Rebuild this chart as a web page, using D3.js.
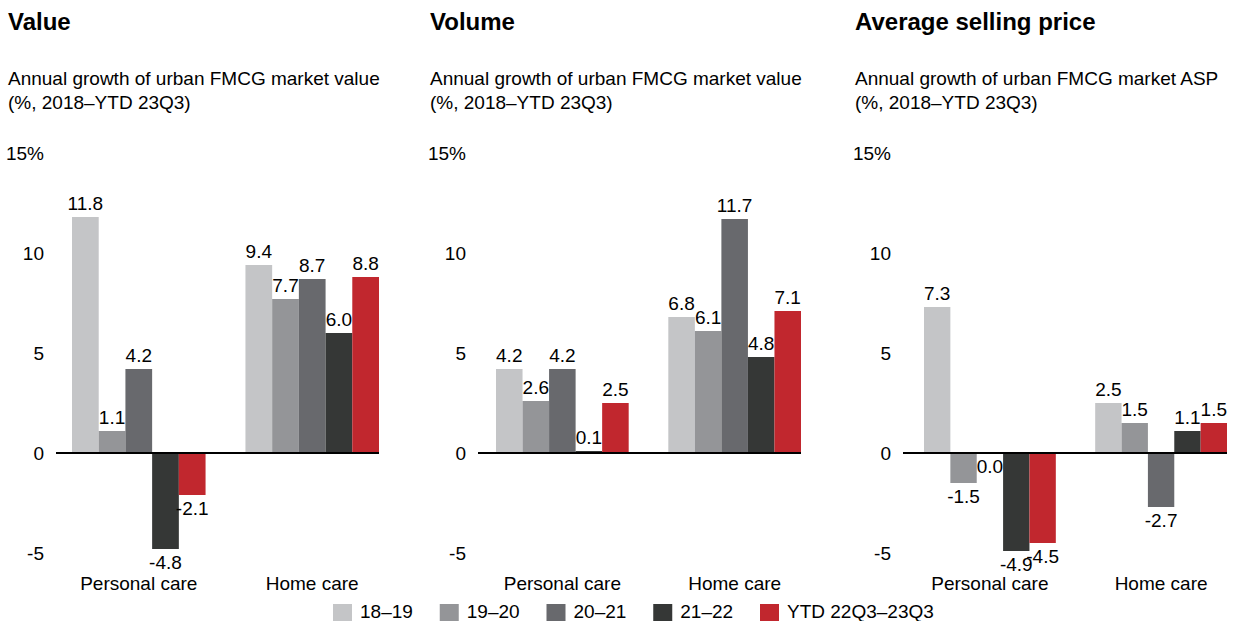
<!DOCTYPE html>
<html>
<head>
<meta charset="utf-8">
<script src="https://cdn.jsdelivr.net/npm/d3@7"></script>
<style>
  html, body { margin: 0; padding: 0; background: #fff; }
  svg { display: block; font-family: "Liberation Sans", Arial, Helvetica, sans-serif; }
</style>
</head>
<body>
<svg id="chart" width="1239" height="621"></svg>
<script>
// ---- Data ----
const categories = ["Personal care", "Home care"];
const seriesNames = ["18–19", "19–20", "20–21", "21–22", "YTD 22Q3–23Q3"];
const seriesColors = ["#c4c5c7", "#949598", "#68696d", "#353736", "#c1272e"];

const valuePersonal = [11.8, 1.1, 4.2, -4.8, -2.1];
const valueHome = [9.4, 7.7, 8.7, 6.0, 8.8];
const volumePersonal = [4.2, 2.6, 4.2, 0.1, 2.5];
const volumeHome = [6.8, 6.1, 11.7, 4.8, 7.1];
const aspPersonal = [7.3, -1.5, 0.0, -4.9, -4.5];
const aspHome = [2.5, 1.5, -2.7, 1.1, 1.5];

const yTicks = [-5, 0, 5, 10, 15];
const titles = ["Value", "Volume", "Average selling price"];
const subtitles = [
  ["Annual growth of urban FMCG market value", "(%, 2018–YTD 23Q3)"],
  ["Annual growth of urban FMCG market value", "(%, 2018–YTD 23Q3)"],
  ["Annual growth of urban FMCG market ASP", "(%, 2018–YTD 23Q3)"]
];

const panels = [
  { title: titles[0], sub: subtitles[0], data: [valuePersonal, valueHome] },
  { title: titles[1], sub: subtitles[1], data: [volumePersonal, volumeHome] },
  { title: titles[2], sub: subtitles[2], data: [aspPersonal, aspHome] }
];

// ---- Layout ----
const panelLeft = [8, 430, 855];
const barStart = [72, 496, 924];
const barEnd = [379, 801, 1227];
const FONT = 19;
const fmt = v => d3.format(".1f")(v).replace("−", "-");

const svg = d3.select("#chart");
const y = d3.scaleLinear().domain([-5, 15]).range([553, 153]);

panels.forEach((p, i) => {
  const g = svg.append("g");
  const left = panelLeft[i];

  g.append("text").attr("x", left).attr("y", 30)
    .attr("font-size", 24).attr("font-weight", "bold").attr("fill", "#000")
    .text(p.title);

  p.sub.forEach((line, k) => {
    g.append("text").attr("x", left).attr("y", 85 + k * 24)
      .attr("font-size", FONT).attr("fill", "#000").text(line);
  });

  // y tick labels
  g.selectAll("text.tick").data(yTicks).join("text")
    .attr("class", "tick")
    .attr("x", left + 36)
    .attr("y", d => y(d))
    .attr("dy", "0.35em")
    .attr("text-anchor", "end")
    .attr("font-size", FONT)
    .attr("fill", "#000")
    .text(d => d === 15 ? "15%" : String(d));

  const x0 = d3.scaleBand().domain(categories).range([barStart[i], barEnd[i]]).paddingInner(0.23);
  const x1 = d3.scaleBand().domain(seriesNames).range([0, x0.bandwidth()]);

  const rows = [];
  categories.forEach((c, ci) => {
    seriesNames.forEach((s, si) => {
      rows.push({ cat: c, series: s, si, v: p.data[ci][si] });
    });
  });

  g.selectAll("rect.bar").data(rows).join("rect")
    .attr("class", "bar")
    .attr("x", d => x0(d.cat) + x1(d.series))
    .attr("width", x1.bandwidth())
    .attr("y", d => Math.min(y(d.v), y(0)))
    .attr("height", d => Math.abs(y(d.v) - y(0)))
    .attr("fill", d => seriesColors[d.si]);

  g.selectAll("text.val").data(rows).join("text")
    .attr("class", "val")
    .attr("x", d => x0(d.cat) + x1(d.series) + x1.bandwidth() / 2)
    .attr("y", d => d.v > 0 ? y(d.v) - 7 : y(d.v) + 20)
    .attr("text-anchor", "middle")
    .attr("font-size", FONT)
    .attr("fill", "#000")
    .text(d => fmt(d.v));

  // zero line
  g.append("line")
    .attr("x1", left + 48).attr("x2", barEnd[i])
    .attr("y1", y(0)).attr("y2", y(0))
    .attr("stroke", "#000").attr("stroke-width", 2);

  // category labels
  g.selectAll("text.cat").data(categories).join("text")
    .attr("class", "cat")
    .attr("x", d => x0(d) + x0.bandwidth() / 2)
    .attr("y", 590)
    .attr("text-anchor", "middle")
    .attr("font-size", FONT)
    .attr("fill", "#000")
    .text(d => d);
});

// ---- Legend ----
const lx = d3.scaleBand().domain(seriesNames).range([333, 333 + 106.75 * 5]);
const lg = svg.append("g");
lg.selectAll("rect").data(seriesNames).join("rect")
  .attr("x", d => lx(d)).attr("y", 604)
  .attr("width", 19).attr("height", 17)
  .attr("fill", (d, i) => seriesColors[i]);
lg.selectAll("text").data(seriesNames).join("text")
  .attr("x", d => lx(d) + 27).attr("y", 618)
  .attr("font-size", FONT).attr("fill", "#000")
  .text(d => d);
</script>
</body>
</html>
